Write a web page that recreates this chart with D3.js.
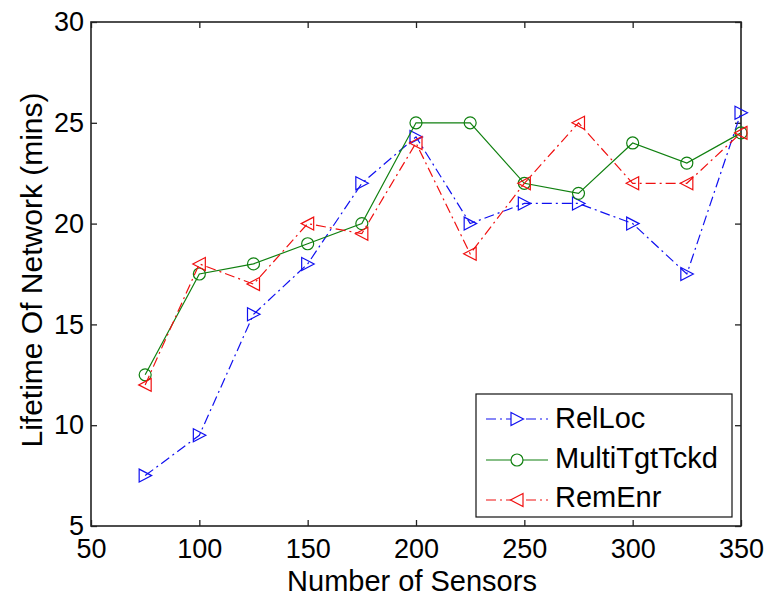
<!DOCTYPE html>
<html>
<head>
<meta charset="utf-8">
<script src="https://cdn.jsdelivr.net/npm/d3@7/dist/d3.min.js"></script>
<style>
  body { margin: 0; background: #fff; }
  svg { display: block; font-family: "Liberation Sans", Arial, sans-serif; }
</style>
</head>
<body>
<svg id="chart" width="768" height="600"></svg>
<script>
const sensors = [75, 100, 125, 150, 175, 200, 225, 250, 275, 300, 325, 350];
const relLoc = [7.5, 9.5, 15.5, 18, 22, 24.3, 20, 21, 21, 20, 17.5, 25.5];
const multiTgtTckd = [12.5, 17.5, 18, 19, 20, 25, 25, 22, 21.5, 24, 23, 24.5];
const remEnr = [12, 18, 17, 20, 19.5, 24, 18.5, 22, 25, 22, 22, 24.5];
const xTicks = [50, 100, 150, 200, 250, 300, 350];
const yTicks = [5, 10, 15, 20, 25, 30];
const seriesNames = ["RelLoc", "MultiTgtTckd", "RemEnr"];
const xTitle = "Number of Sensors";
const yTitle = "Lifetime Of Network (mins)";

const series = [
  { name: seriesNames[0], values: relLoc, color: "#1010f0", dash: "10,4,2,4", marker: "right" },
  { name: seriesNames[1], values: multiTgtTckd, color: "#108010", dash: null, marker: "circle" },
  { name: seriesNames[2], values: remEnr, color: "#f01010", dash: "10,4,2,4", marker: "left" }
];

const svg = d3.select("#chart");
const L = 91, R = 741, T = 22, B = 526;
const x = d3.scaleLinear().domain([50, 350]).range([L, R]);
const y = d3.scaleLinear().domain([5, 30]).range([B, T]);

svg.append("rect").attr("width", 768).attr("height", 600).attr("fill", "#fff");

const axColor = "#222";
const tickLen = 6;
const fontTick = 27;

const gx = svg.append("g").attr("transform", `translate(0,${B})`)
  .call(d3.axisBottom(x).tickValues(xTicks).tickSize(-tickLen).tickPadding(6).tickFormat(d3.format("d")));
const gxTop = svg.append("g").attr("transform", `translate(0,${T})`)
  .call(d3.axisTop(x).tickValues(xTicks).tickSize(-tickLen).tickFormat(""));
const gy = svg.append("g").attr("transform", `translate(${L},0)`)
  .call(d3.axisLeft(y).tickValues(yTicks).tickSize(-tickLen).tickPadding(7).tickFormat(d3.format("d")));
const gyR = svg.append("g").attr("transform", `translate(${R},0)`)
  .call(d3.axisRight(y).tickValues(yTicks).tickSize(-tickLen).tickFormat(""));

[gx, gxTop, gy, gyR].forEach(g => {
  g.select(".domain").remove();
  g.selectAll(".tick line").attr("stroke", axColor).attr("stroke-width", 1.3);
  g.selectAll(".tick text").attr("fill", "#000").attr("font-size", fontTick)
    .attr("font-family", "'Liberation Sans', Arial, sans-serif");
});
gx.selectAll(".tick text").attr("dy", null).attr("y", 32);

svg.append("rect").attr("x", L).attr("y", T).attr("width", R - L).attr("height", B - T)
  .attr("fill", "none").attr("stroke", axColor).attr("stroke-width", 1.6);

// titles
svg.append("text").attr("x", 412).attr("y", 591).attr("text-anchor", "middle")
  .attr("font-size", 29).attr("fill", "#000").text(xTitle);
svg.append("text").attr("transform", `translate(42,270) rotate(-90)`)
  .attr("text-anchor", "middle").attr("font-size", 30).attr("fill", "#000").text(yTitle);

function markerPath(type) {
  if (type === "right") return "M-6,-6.5L6.5,0L-6,6.5Z";
  if (type === "left") return "M6,-6.5L-6.5,0L6,6.5Z";
  return d3.symbol(d3.symbolCircle, Math.PI * 36)();
}

const line = d3.line().x((d, i) => x(sensors[i])).y(d => y(d));

series.forEach(s => {
  const g = svg.append("g");
  g.append("path").datum(s.values).attr("d", line)
    .attr("fill", "none").attr("stroke", s.color).attr("stroke-width", 1.2)
    .attr("stroke-dasharray", s.dash);
  g.selectAll("path.m").data(s.values).enter().append("path").attr("class", "m")
    .attr("transform", (d, i) => `translate(${x(sensors[i])},${y(d)})`)
    .attr("d", markerPath(s.marker))
    .attr("fill", "none").attr("stroke", s.color).attr("stroke-width", 1.2);
});

// legend
const lg = svg.append("g");
lg.append("rect").attr("x", 476).attr("y", 394).attr("width", 256).attr("height", 123)
  .attr("fill", "#fff").attr("stroke", "#111").attr("stroke-width", 1.2);
const rowY = [419, 460, 500];
const rowBase = [428, 468, 507];
series.forEach((s, i) => {
  const yy = rowY[i];
  lg.append("line").attr("x1", 486).attr("x2", 548).attr("y1", yy).attr("y2", yy)
    .attr("stroke", s.color).attr("stroke-width", 1.2).attr("stroke-dasharray", s.dash);
  lg.append("path").attr("transform", `translate(517,${yy})`).attr("d", markerPath(s.marker))
    .attr("fill", "#fff").attr("stroke", s.color).attr("stroke-width", 1.2);
  lg.append("text").attr("x", 555).attr("y", rowBase[i]).attr("font-size", 29).attr("fill", "#000").text(s.name);
});
</script>
</body>
</html>
